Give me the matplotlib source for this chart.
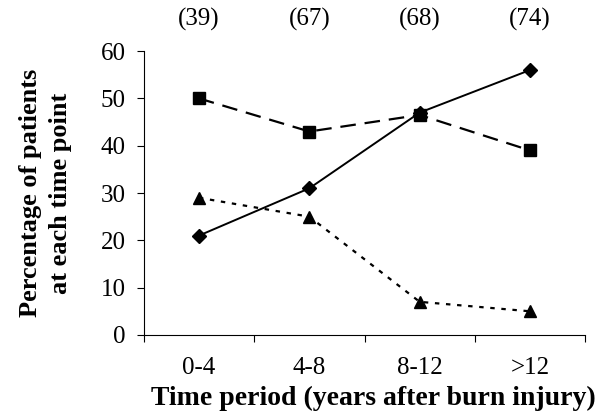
import matplotlib
matplotlib.use("Agg")
import matplotlib.pyplot as plt

categories = ["0-4", "4-8", "8-12", ">12"]
counts = ["(39)", "(67)", "(68)", "(74)"]
diamond_vals = [21, 31, 47, 56]
square_vals = [50, 43, 46.5, 39]
triangle_vals = [29, 25, 7, 5]
yticks = [0, 10, 20, 30, 40, 50, 60]

plt.rcParams['font.family'] = ['Liberation Serif', 'DejaVu Serif']

fig = plt.figure(figsize=(6.04, 4.12), dpi=100)
ax = fig.add_axes([0.238, 0.187, 0.731, 0.689])
x = list(range(len(categories)))

ax.plot(x, square_vals, color='black', lw=1.6, linestyle=(0, (7, 4)),
        marker='s', markersize=8)
ax.plot(x, diamond_vals, color='black', lw=1.4, linestyle='-',
        marker='D', markersize=7)
ax.plot(x, triangle_vals, color='black', lw=1.6, linestyle=(0, (2, 3)),
        marker='^', markersize=9)

ax.set_xlim(-0.5, 3.5)
ax.set_ylim(0, 60)
ax.set_yticks(yticks)
ax.set_yticklabels([str(v) for v in yticks], fontsize=18)
ax.set_xticks([-0.5, 0.5, 1.5, 2.5, 3.5])
ax.set_xticklabels([])
ax.set_xticks(x, minor=True)
ax.set_xticklabels(categories, minor=True, fontsize=18)
ax.tick_params(axis='x', which='minor', length=0, pad=16)
ax.tick_params(axis='x', which='major', length=5, direction='out')
ax.tick_params(axis='y', length=5, direction='out', pad=8)

for s in ['top', 'right']:
    ax.spines[s].set_visible(False)

for xi, c in zip(x, counts):
    ax.text(xi, 1.11, c, transform=ax.get_xaxis_transform(), ha='center',
            va='center', fontsize=18)

ax.set_xlabel("Time period (years after burn injury)", fontsize=20,
              fontweight='bold')
ax.xaxis.set_label_coords(0.52, -0.18)
ax.xaxis.label.set_va('top')
ax.set_ylabel("Percentage of patients\nat each time point", fontsize=19,
              fontweight='bold', labelpad=21, linespacing=1.35)

fig.savefig("out.png", dpi=100)
